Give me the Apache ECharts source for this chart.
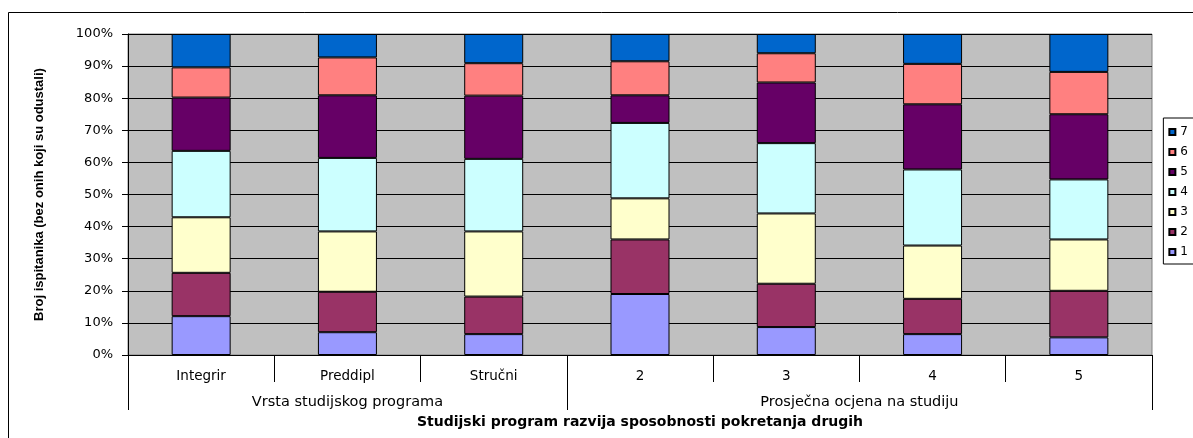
<!DOCTYPE html>
<html>
<head>
<meta charset="utf-8">
<script src="https://cdn.jsdelivr.net/npm/echarts@6/dist/echarts.min.js"></script>
<style>
html,body{margin:0;padding:0;background:#fff;}
#chart{width:1193px;height:438px;}
</style>
</head>
<body>
<div id="chart"></div>
<script>
// Categories (first-level axis labels)
const categories = ['Integrir', 'Preddipl', 'Stručni', '2', '3', '4', '5'];
// Group labels (second-level axis) and how many categories each spans
const groupLabels = ['Vrsta studijskog programa', 'Prosječna ocjena na studiju'];
const groupSpans = [3, 4];
// Series names
const seriesNames = ['1', '2', '3', '4', '5', '6', '7'];
// Series values (% of respondents), one array per answer
const s1 = [12.1, 7.1, 6.5, 19.0, 8.7, 6.5, 5.5];
const s2 = [13.5, 12.6, 11.7, 17.0, 13.5, 11.0, 14.5];
const s3 = [17.3, 18.8, 20.3, 12.8, 21.9, 16.6, 16.0];
const s4 = [20.7, 22.9, 22.6, 23.5, 21.9, 23.7, 18.7];
const s5 = [16.6, 19.5, 19.7, 8.6, 18.9, 20.3, 20.3];
const s6 = [9.4, 11.8, 10.1, 10.6, 9.1, 12.6, 13.2];
const s7 = [10.4, 7.3, 9.1, 8.5, 6.0, 9.3, 11.8];
const seriesValues = [s1, s2, s3, s4, s5, s6, s7];
const colors = ['#9999FF', '#993366', '#FFFFCC', '#CCFFFF', '#660066', '#FF8080', '#0066CC'];
const yTickStep = 10;
const xTitle = 'Studijski program razvija sposobnosti pokretanja drugih';
const yTitle = 'Broj ispitanika (bez onih koji su odustali)';

// group boundaries & centres in category units
const groupEdges = [0];
const groupCenters = [];
groupSpans.forEach((n, i) => {
  groupCenters.push(groupEdges[i] + n / 2);
  groupEdges.push(groupEdges[i] + n);
});

const chart = echarts.init(document.getElementById('chart'), null, {renderer: 'canvas'});
const FONT = 'DejaVu Sans';

const option = {
  animation: false,
  backgroundColor: '#fff',
  color: colors,
  graphic: [{
    type: 'rect', silent: true, z: -10,
    shape: {x: 8.5, y: 12.5, width: 1200, height: 440},
    style: {fill: 'none', stroke: '#000', lineWidth: 1}
  }],
  grid: {
    left: 128, right: 41, top: 34, bottom: 83,
    show: true, backgroundColor: '#C0C0C0', borderColor: '#808080', borderWidth: 1
  },
  legend: {
    orient: 'vertical',
    right: -25, top: 118,
    data: seriesNames.slice().reverse(),
    icon: 'rect', itemWidth: 6, itemHeight: 6, itemGap: 8,
    padding: [8, 30, 6, 5],
    borderColor: '#000', borderWidth: 1,
    textStyle: {fontFamily: FONT, fontSize: 12, color: '#000'}
  },
  xAxis: [{
    type: 'category',
    data: categories,
    position: 'bottom',
    axisLine: {show: true, lineStyle: {color: '#000', width: 1}},
    axisTick: {show: true, length: 27, interval: 0, lineStyle: {color: '#000'}},
    axisLabel: {fontFamily: FONT, fontSize: 13.5, color: '#000', margin: 14, interval: 0},
    splitLine: {show: false}
  }, {
    type: 'value',
    min: 0, max: categories.length,
    position: 'bottom',
    axisLine: {show: false},
    splitLine: {show: false},
    axisTick: {show: true, length: 55, customValues: groupEdges, lineStyle: {color: '#000'}},
    axisLabel: {
      show: true, customValues: groupCenters, margin: 40,
      fontFamily: FONT, fontSize: 14.5, color: '#000',
      formatter: function (v) {
        for (let i = 0; i < groupCenters.length; i++) {
          if (Math.abs(groupCenters[i] - v) < 1e-6) return groupLabels[i];
        }
        return '';
      }
    },
    name: xTitle,
    nameLocation: 'middle',
    nameGap: 60,
    nameTextStyle: {fontFamily: FONT, fontWeight: 'bold', fontSize: 14, color: '#000'}
  }],
  yAxis: {
    type: 'value',
    min: 0, max: 100, interval: yTickStep,
    axisLine: {show: true, lineStyle: {color: '#000'}},
    axisTick: {show: true, length: 6, lineStyle: {color: '#000'}},
    axisLabel: {fontFamily: FONT, fontSize: 13, color: '#000', margin: 15, formatter: '{value}%'},
    splitLine: {show: true, lineStyle: {color: '#000', width: 1}},
    name: yTitle,
    nameLocation: 'middle',
    nameGap: 82,
    nameTextStyle: {fontFamily: 'Liberation Sans', fontWeight: 'bold', fontSize: 13, color: '#000'}
  },
  series: seriesNames.map((name, i) => ({
    name: name,
    type: 'bar',
    stack: 'total',
    xAxisIndex: 0,
    barWidth: 59,
    data: seriesValues[i],
    itemStyle: {color: colors[i], borderColor: '#000', borderWidth: 1}
  }))
};
chart.setOption(option);
</script>
</body>
</html>
